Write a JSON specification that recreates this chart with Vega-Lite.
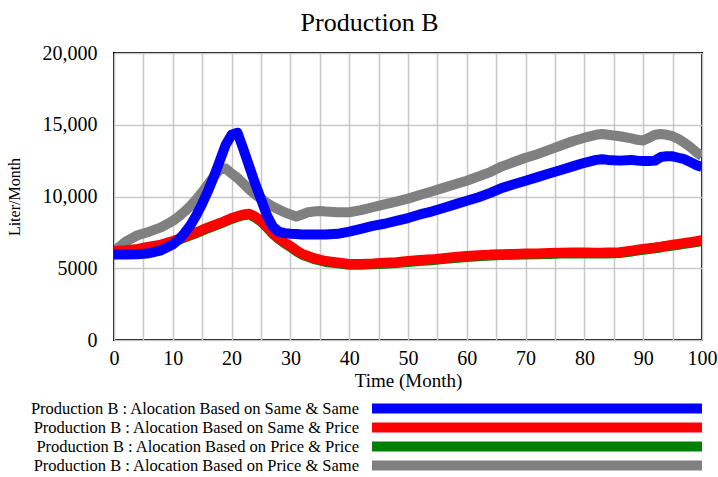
{
  "$schema": "https://vega.github.io/schema/vega-lite/v6.json",
  "background": "white",
  "padding": {"left": 5, "top": 10, "right": 1, "bottom": 5},
  "title": {"text": "Production B", "fontSize": 26, "font": "Liberation Serif", "fontWeight": "normal", "color": "black", "anchor": "middle", "offset": 6, "dx": 8},
  "config": {
    "font": "Liberation Serif",
    "text": {"font": "Liberation Serif"},
    "mark": {"font": "Liberation Serif"},
    "axis": {"labelFont": "Liberation Serif", "titleFont": "Liberation Serif", "labelColor": "black", "titleColor": "black", "titleFontWeight": "normal"}
  },
  "spacing": 8,
  "datasets": {
    "series": [
      {"t":0,"SameSame":5950,"SamePrice":6200,"PricePrice":6140,"PriceSame":6200},
      {"t":2,"SameSame":5950,"SamePrice":6250,"PricePrice":6190,"PriceSame":6850},
      {"t":4,"SameSame":5980,"SamePrice":6350,"PricePrice":6290,"PriceSame":7300},
      {"t":6,"SameSame":6050,"SamePrice":6500,"PricePrice":6440,"PriceSame":7550},
      {"t":8,"SameSame":6250,"SamePrice":6650,"PricePrice":6590,"PriceSame":7850},
      {"t":10,"SameSame":6650,"SamePrice":6900,"PricePrice":6840,"PriceSame":8300},
      {"t":11,"SameSame":7000,"SamePrice":7050,"PricePrice":6990,"PriceSame":8600},
      {"t":12,"SameSame":7450,"SamePrice":7200,"PricePrice":7140,"PriceSame":8950},
      {"t":13,"SameSame":8000,"SamePrice":7350,"PricePrice":7290,"PriceSame":9350},
      {"t":14,"SameSame":8700,"SamePrice":7500,"PricePrice":7440,"PriceSame":9800},
      {"t":15,"SameSame":9500,"SamePrice":7680,"PricePrice":7620,"PriceSame":10300},
      {"t":16,"SameSame":10400,"SamePrice":7850,"PricePrice":7790,"PriceSame":10850},
      {"t":17,"SameSame":11400,"SamePrice":8000,"PricePrice":7940,"PriceSame":11400},
      {"t":18,"SameSame":12500,"SamePrice":8150,"PricePrice":8090,"PriceSame":11900},
      {"t":19,"SameSame":13600,"SamePrice":8320,"PricePrice":8260,"PriceSame":11950},
      {"t":20,"SameSame":14300,"SamePrice":8500,"PricePrice":8440,"PriceSame":11600},
      {"t":21,"SameSame":14450,"SamePrice":8630,"PricePrice":8570,"PriceSame":11300},
      {"t":22,"SameSame":13300,"SamePrice":8750,"PricePrice":8690,"PriceSame":10900},
      {"t":23,"SameSame":12100,"SamePrice":8800,"PricePrice":8740,"PriceSame":10500},
      {"t":24,"SameSame":10900,"SamePrice":8600,"PricePrice":8540,"PriceSame":10150},
      {"t":25,"SameSame":9800,"SamePrice":8300,"PricePrice":8240,"PriceSame":9850},
      {"t":26,"SameSame":8700,"SamePrice":7900,"PricePrice":7840,"PriceSame":9550},
      {"t":27,"SameSame":7900,"SamePrice":7450,"PricePrice":7390,"PriceSame":9300},
      {"t":28,"SameSame":7550,"SamePrice":7100,"PricePrice":7040,"PriceSame":9100},
      {"t":29,"SameSame":7450,"SamePrice":6800,"PricePrice":6740,"PriceSame":8900},
      {"t":30,"SameSame":7400,"SamePrice":6550,"PricePrice":6490,"PriceSame":8750},
      {"t":31,"SameSame":7380,"SamePrice":6250,"PricePrice":6190,"PriceSame":8600},
      {"t":32,"SameSame":7350,"SamePrice":6000,"PricePrice":5940,"PriceSame":8750},
      {"t":33,"SameSame":7350,"SamePrice":5850,"PricePrice":5790,"PriceSame":8900},
      {"t":34,"SameSame":7350,"SamePrice":5700,"PricePrice":5640,"PriceSame":8950},
      {"t":35,"SameSame":7350,"SamePrice":5600,"PricePrice":5540,"PriceSame":8990},
      {"t":36,"SameSame":7350,"SamePrice":5500,"PricePrice":5440,"PriceSame":8950},
      {"t":38,"SameSame":7400,"SamePrice":5400,"PricePrice":5340,"PriceSame":8900},
      {"t":40,"SameSame":7550,"SamePrice":5300,"PricePrice":5240,"PriceSame":8900},
      {"t":42,"SameSame":7750,"SamePrice":5300,"PricePrice":5240,"PriceSame":9050},
      {"t":44,"SameSame":7950,"SamePrice":5330,"PricePrice":5270,"PriceSame":9250},
      {"t":46,"SameSame":8100,"SamePrice":5380,"PricePrice":5320,"PriceSame":9450},
      {"t":48,"SameSame":8300,"SamePrice":5420,"PricePrice":5360,"PriceSame":9650},
      {"t":50,"SameSame":8500,"SamePrice":5500,"PricePrice":5440,"PriceSame":9850},
      {"t":52,"SameSame":8750,"SamePrice":5570,"PricePrice":5510,"PriceSame":10100},
      {"t":54,"SameSame":8950,"SamePrice":5620,"PricePrice":5560,"PriceSame":10350},
      {"t":56,"SameSame":9200,"SamePrice":5700,"PricePrice":5640,"PriceSame":10600},
      {"t":58,"SameSame":9450,"SamePrice":5780,"PricePrice":5720,"PriceSame":10850},
      {"t":60,"SameSame":9700,"SamePrice":5850,"PricePrice":5790,"PriceSame":11100},
      {"t":62,"SameSame":9950,"SamePrice":5900,"PricePrice":5840,"PriceSame":11400},
      {"t":64,"SameSame":10250,"SamePrice":5950,"PricePrice":5890,"PriceSame":11700},
      {"t":66,"SameSame":10600,"SamePrice":5980,"PricePrice":5920,"PriceSame":12100},
      {"t":68,"SameSame":10850,"SamePrice":6000,"PricePrice":5940,"PriceSame":12400},
      {"t":70,"SameSame":11100,"SamePrice":6020,"PricePrice":5960,"PriceSame":12700},
      {"t":72,"SameSame":11350,"SamePrice":6030,"PricePrice":5970,"PriceSame":12950},
      {"t":74,"SameSame":11600,"SamePrice":6060,"PricePrice":6000,"PriceSame":13250},
      {"t":76,"SameSame":11850,"SamePrice":6080,"PricePrice":6020,"PriceSame":13550},
      {"t":78,"SameSame":12100,"SamePrice":6090,"PricePrice":6030,"PriceSame":13850},
      {"t":80,"SameSame":12350,"SamePrice":6090,"PricePrice":6030,"PriceSame":14100},
      {"t":82,"SameSame":12550,"SamePrice":6080,"PricePrice":6020,"PriceSame":14300},
      {"t":83,"SameSame":12600,"SamePrice":6080,"PricePrice":6020,"PriceSame":14350},
      {"t":84,"SameSame":12550,"SamePrice":6090,"PricePrice":6030,"PriceSame":14300},
      {"t":86,"SameSame":12500,"SamePrice":6120,"PricePrice":6060,"PriceSame":14200},
      {"t":88,"SameSame":12550,"SamePrice":6230,"PricePrice":6170,"PriceSame":14050},
      {"t":89,"SameSame":12500,"SamePrice":6290,"PricePrice":6230,"PriceSame":13950},
      {"t":90,"SameSame":12480,"SamePrice":6350,"PricePrice":6290,"PriceSame":13900},
      {"t":91,"SameSame":12480,"SamePrice":6400,"PricePrice":6340,"PriceSame":14100},
      {"t":92,"SameSame":12500,"SamePrice":6450,"PricePrice":6390,"PriceSame":14300},
      {"t":93,"SameSame":12750,"SamePrice":6510,"PricePrice":6450,"PriceSame":14350},
      {"t":94,"SameSame":12800,"SamePrice":6580,"PricePrice":6520,"PriceSame":14300},
      {"t":95,"SameSame":12800,"SamePrice":6640,"PricePrice":6580,"PriceSame":14200},
      {"t":96,"SameSame":12700,"SamePrice":6700,"PricePrice":6640,"PriceSame":14000},
      {"t":97,"SameSame":12600,"SamePrice":6760,"PricePrice":6700,"PriceSame":13750},
      {"t":98,"SameSame":12400,"SamePrice":6820,"PricePrice":6760,"PriceSame":13450},
      {"t":99,"SameSame":12200,"SamePrice":6880,"PricePrice":6820,"PriceSame":13100},
      {"t":100,"SameSame":12050,"SamePrice":6950,"PricePrice":6890,"PriceSame":12800}
    ],
    "legend": [
      {"k": "SameSame", "label": "Production B : Alocation Based on Same & Same"},
      {"k": "SamePrice", "label": "Production B : Alocation Based on Same & Price"},
      {"k": "PricePrice", "label": "Production B : Alocation Based on Price & Price"},
      {"k": "PriceSame", "label": "Production B : Alocation Based on Price & Same"}
    ]
  },
  "vconcat": [
    {
      "width": 588,
      "height": 287,
      "view": {"stroke": "black", "strokeWidth": 2},
      "data": {"name": "series"},
      "transform": [{"fold": ["PriceSame", "PricePrice", "SamePrice", "SameSame"], "as": ["key", "value"]}],
      "mark": {"type": "line", "strokeWidth": 10, "strokeJoin": "round", "strokeCap": "butt", "clip": true},
      "encoding": {
        "x": {
          "field": "t", "type": "quantitative",
          "scale": {"domain": [0, 100], "nice": false, "zero": false},
          "axis": {
            "title": "Time (Month)", "titleFontSize": 19, "titlePadding": 3,
            "values": [0,5,10,15,20,25,30,35,40,45,50,55,60,65,70,75,80,85,90,95,100],
            "labelExpr": "datum.value % 10 == 0 ? datum.label : ''",
            "labelFontSize": 20, "labelPadding": 8, "ticks": false, "domain": false,
            "grid": true, "gridColor": "#c8c8c8", "gridWidth": 1.5, "labelFlush": false
          }
        },
        "y": {
          "field": "value", "type": "quantitative",
          "scale": {"domain": [0, 20000], "nice": false},
          "axis": {
            "title": "Liter/Month", "titleFontSize": 16, "titlePadding": 20,
            "values": [0, 5000, 10000, 15000, 20000],
            "labelExpr": "datum.value >= 10000 ? format(datum.value, ',') : format(datum.value, 'd')",
            "labelFontSize": 20, "labelPadding": 17, "ticks": false, "domain": false,
            "grid": true, "gridColor": "#c8c8c8", "gridWidth": 1.5
          }
        },
        "color": {
          "field": "key", "type": "nominal",
          "scale": {"domain": ["SameSame", "SamePrice", "PricePrice", "PriceSame"], "range": ["#0000ff", "#ff0000", "#008000", "#808080"]},
          "legend": null
        }
      }
    },
    {
      "width": 588,
      "height": 76,
      "view": {"stroke": null},
      "data": {"name": "legend"},
      "encoding": {
        "y": {"field": "k", "type": "nominal", "sort": ["SameSame", "SamePrice", "PricePrice", "PriceSame"], "axis": null}
      },
      "layer": [
        {
          "mark": {"type": "rule", "strokeWidth": 10},
          "encoding": {
            "x": {"datum": 0.4388, "type": "quantitative", "scale": {"domain": [0, 1], "nice": false}, "axis": null},
            "x2": {"datum": 1},
            "color": {"field": "k", "type": "nominal", "scale": {"domain": ["SameSame", "SamePrice", "PricePrice", "PriceSame"], "range": ["#0000ff", "#ff0000", "#008000", "#808080"]}, "legend": null}
          }
        },
        {
          "mark": {"type": "text", "align": "right", "baseline": "middle", "fontSize": 16.5, "font": "Liberation Serif", "color": "black"},
          "encoding": {
            "x": {"datum": 0.4167, "type": "quantitative", "scale": {"domain": [0, 1], "nice": false}, "axis": null},
            "text": {"field": "label"}
          }
        }
      ]
    }
  ]
}
